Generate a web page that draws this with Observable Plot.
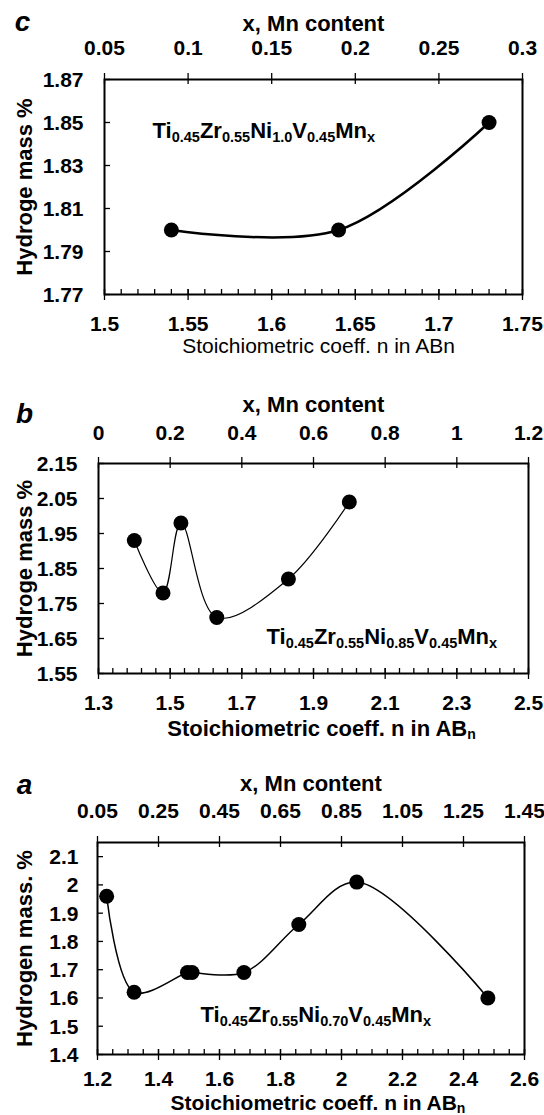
<!DOCTYPE html>
<html><head><meta charset="utf-8">
<script src="https://cdn.jsdelivr.net/npm/d3@7"></script>
<script src="https://cdn.jsdelivr.net/npm/@observablehq/plot@0.6"></script>
<style>
html,body{margin:0;padding:0;background:#fff;overflow:hidden;}
#chart svg{display:block;}
</style></head><body><div id="chart"></div>
<script>
// ---------- Panel c ----------
const cLetter = "c";
const cN = [1.54, 1.64, 1.73];
const cH = [1.80, 1.80, 1.85];
const cBottomTicks = ["1.5","1.55","1.6","1.65","1.7","1.75"];
const cTopTicks = ["0.05","0.1","0.15","0.2","0.25","0.3"];
const cYTicks = ["1.77","1.79","1.81","1.83","1.85","1.87"];
const cYDomain = [1.77, 1.87];
const cMinorStep = 0.01;
const cYTitle = "Hydroge mass %";
const cXTitle = [["Stoichiometric coeff. n in ABn", ""]];
const cFormula = [["Ti","0.45"],["Zr","0.55"],["Ni","1.0"],["V","0.45"],["Mn","x"]];

// ---------- Panel b ----------
const bLetter = "b";
const bN = [1.40, 1.48, 1.53, 1.63, 1.83, 2.00];
const bH = [1.93, 1.78, 1.98, 1.71, 1.82, 2.04];
const bBottomTicks = ["1.3","1.5","1.7","1.9","2.1","2.3","2.5"];
const bTopTicks = ["0","0.2","0.4","0.6","0.8","1","1.2"];
const bYTicks = ["1.55","1.65","1.75","1.85","1.95","2.05","2.15"];
const bYDomain = [1.55, 2.15];
const bMinorStep = 0.04;
const bYTitle = "Hydroge mass %";
const bXTitle = [["Stoichiometric coeff. n in AB", "n"]];
const bFormula = [["Ti","0.45"],["Zr","0.55"],["Ni","0.85"],["V","0.45"],["Mn","x"]];

// ---------- Panel a ----------
const aLetter = "a";
const aN = [1.23, 1.32, 1.495, 1.51, 1.68, 1.86, 2.05, 2.48];
const aH = [1.96, 1.62, 1.69, 1.69, 1.69, 1.86, 2.01, 1.60];
const aBottomTicks = ["1.2","1.4","1.6","1.8","2","2.2","2.4","2.6"];
const aTopTicks = ["0.05","0.25","0.45","0.65","0.85","1.05","1.25","1.45"];
const aYTicks = ["1.4","1.5","1.6","1.7","1.8","1.9","2","2.1"];
const aYDomain = [1.4, 2.15];
const aMinorStep = 0.05;
const aYTitle = "Hydrogen mass. %";
const aXTitle = [["Stoichiometric coeff. n in AB", "n"]];
const aFormula = [["Ti","0.45"],["Zr","0.55"],["Ni","0.70"],["V","0.45"],["Mn","x"]];

const topTitle = "x, Mn content";
const FONT = "'Liberation Sans', Arial, Helvetica, sans-serif";

function subscriptify(svg, plain, parts, subSize, shift) {
  d3.select(svg).selectAll("text").filter(function(){ return this.textContent === plain; }).each(function(){
    const t = d3.select(this);
    t.text(null);
    let down = false;
    parts.forEach(([main, sub]) => {
      if (main) { const m = t.append("tspan").text(main); if (down) { m.attr("dy", -shift); down = false; } }
      if (sub) { t.append("tspan").attr("dy", shift).attr("font-size", subSize).text(sub); down = true; }
    });
  });
}

function panel(cfg) {
  const W = 544 - cfg.ml - cfg.mr, H = cfg.height - cfg.mt - cfg.mb;
  const xb = cfg.bottomTicks.map(Number), xt = cfg.topTicks.map(Number), yv = cfg.yTicks.map(Number);
  const xDomain = [xb[0], xb[xb.length - 1]];
  const topToBottom = d3.scaleLinear().domain([xt[0], xt[xt.length - 1]]).range(xDomain);
  const nMinor = Math.round((xDomain[1] - xDomain[0]) / cfg.minorStep);
  const minor = d3.range(nMinor + 1).map(i => xDomain[0] + i * cfg.minorStep);
  const data = cfg.n.map((v, i) => ({n: v, h: cfg.h[i]}));
  const formulaPlain = cfg.formula.map(p => p.join("")).join("");
  const xTitlePlain = cfg.xTitle.map(p => p.join("")).join("");
  const tick = {stroke: "#000", strokeWidth: 1.3};
  const svg = Plot.plot({
    width: 544, height: cfg.height,
    marginTop: cfg.mt, marginBottom: cfg.mb, marginLeft: cfg.ml, marginRight: cfg.mr,
    x: {domain: xDomain, axis: null},
    y: {domain: cfg.yDomain, axis: null},
    style: {fontFamily: FONT, color: "#000", background: "#fff", overflow: "visible"},
    marks: [
      Plot.ruleX(minor, {x: d => d, insetTop: H - 5, ...tick}),
      Plot.ruleX(xb, {x: d => d, insetTop: H - 5, insetBottom: -6, ...tick}),
      Plot.ruleX(xt, {x: d => topToBottom(d), insetTop: -6, insetBottom: H - 5, ...tick}),
      Plot.ruleY(yv, {y: d => d, insetRight: W - 6, ...tick}),
      Plot.frame({stroke: "#000", strokeWidth: 2}),
      Plot.line(data, {x: "n", y: "h", curve: "catmull-rom", stroke: "#000", strokeWidth: cfg.lineWidth}),
      Plot.dot(data, {x: "n", y: "h", r: 7.5, fill: "#000", stroke: "none"}),
      Plot.text(cfg.bottomTicks, {x: d => +d, text: d => d, frameAnchor: "bottom", dy: cfg.bDy, lineAnchor: "bottom", textAnchor: "middle", fontSize: 21, fontWeight: "bold", fill: "#000"}),
      Plot.text(cfg.topTicks, {x: d => topToBottom(+d), text: d => d, frameAnchor: "top", dy: cfg.tDy, lineAnchor: "bottom", textAnchor: "middle", fontSize: 21, fontWeight: "bold", fill: "#000"}),
      Plot.text(cfg.yTicks, {y: d => +d, text: d => d, frameAnchor: "left", dx: cfg.yDx, dy: 7.5, lineAnchor: "bottom", textAnchor: "end", fontSize: 21, fontWeight: "bold", fill: "#000"}),
      Plot.text([topTitle], {text: d => d, frameAnchor: "top", dy: cfg.ttDy, lineAnchor: "bottom", textAnchor: "middle", fontSize: 22, fontWeight: "bold", fill: "#000"}),
      Plot.text([cfg.yTitle], {text: d => d, frameAnchor: "left", dx: cfg.ytDx, rotate: -90, lineAnchor: "middle", textAnchor: "middle", fontSize: 22, fontWeight: "bold", fill: "#000"}),
      Plot.text([xTitlePlain], {text: d => d, frameAnchor: "bottom", dx: cfg.xtDx, dy: cfg.xtDy, lineAnchor: "bottom", textAnchor: "middle", fontSize: cfg.xtSize, fontWeight: cfg.xtWeight, fill: "#000"}),
      Plot.text([cfg.letter], {text: d => d, frameAnchor: "top-left", dx: cfg.lDx, dy: cfg.lDy, lineAnchor: "bottom", textAnchor: "middle", fontSize: 28, fontWeight: "bold", fontStyle: "italic", fill: "#000"}),
      Plot.text([formulaPlain], {text: d => d, frameAnchor: "top-left", dx: cfg.fDx, dy: cfg.fDy, lineAnchor: "bottom", textAnchor: "start", fontSize: 22, fontWeight: "bold", fill: "#000"})
    ]
  });
  subscriptify(svg, formulaPlain, cfg.formula, 14.5, 4);
  if (cfg.xTitle[0][1]) subscriptify(svg, xTitlePlain, cfg.xTitle, 14, 3);
  return svg;
}

const root = document.getElementById("chart");
root.appendChild(panel({
  height: 360, mt: 79, mb: 66, ml: 104, mr: 22,
  n: cN, h: cH, bottomTicks: cBottomTicks, topTicks: cTopTicks, yTicks: cYTicks, yDomain: cYDomain,
  minorStep: cMinorStep, yTitle: cYTitle, xTitle: cXTitle, formula: cFormula, letter: cLetter,
  lineWidth: 2.5, bDy: 36.5, tDy: -24.5, yDx: -21, ttDy: -49, ytDx: -80,
  xtDx: 5, xtDy: 58, xtSize: 21, xtWeight: "normal", lDx: -82, lDy: -49, fDx: 48, fDy: 58
}));
root.appendChild(panel({
  height: 380, mt: 103, mb: 67, ml: 98, mr: 16,
  n: bN, h: bH, bottomTicks: bBottomTicks, topTicks: bTopTicks, yTicks: bYTicks, yDomain: bYDomain,
  minorStep: bMinorStep, yTitle: bYTitle, xTitle: bXTitle, formula: bFormula, letter: bLetter,
  lineWidth: 1.2, bDy: 36, tDy: -23.5, yDx: -21, ttDy: -52, ytDx: -74,
  xtDx: 8, xtDy: 62, xtSize: 22, xtWeight: "bold", lDx: -74, lDy: -41, fDx: 168, fDy: 180
}));
root.appendChild(panel({
  height: 375, mt: 102, mb: 61, ml: 97, mr: 20,
  n: aN, h: aH, bottomTicks: aBottomTicks, topTicks: aTopTicks, yTicks: aYTicks, yDomain: aYDomain,
  minorStep: aMinorStep, yTitle: aYTitle, xTitle: aXTitle, formula: aFormula, letter: aLetter,
  lineWidth: 1.5, bDy: 31, tDy: -24.5, yDx: -19, ttDy: -52, ytDx: -73,
  xtDx: 7, xtDy: 55, xtSize: 21, xtWeight: "bold", lDx: -73, lDy: -49, fDx: 103, fDy: 179
}));
</script>
</body></html>
